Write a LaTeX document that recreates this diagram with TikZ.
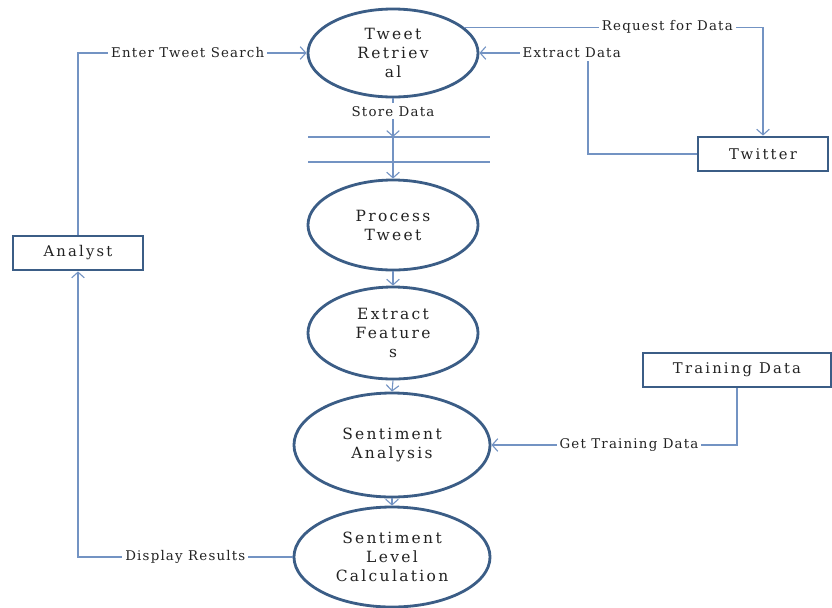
\documentclass[tikz,border=0pt]{standalone}
\usepackage{fontspec}
\setmainfont{DejaVu Serif}
\newfontfamily\bubblefont[LetterSpace=15]{DejaVu Serif}
\newfontfamily\flowfont[LetterSpace=9]{DejaVu Serif}
\usetikzlibrary{arrows.meta,positioning,shapes.geometric}
\definecolor{Frame}{HTML}{3B5D86}
\definecolor{Wire}{HTML}{7393C3}
\definecolor{Script}{HTML}{222222}

\begin{document}
\begin{tikzpicture}[x=0.025cm,y=-0.025cm,
    bubble/.style={ellipse,draw=Frame,line width=2pt,fill=white,align=center,
      inner sep=1pt,text=Script,font=\bubblefont\fontsize{11}{13.5}\selectfont},
    entity/.style={rectangle,draw=Frame,line width=2pt,minimum height=0.85cm,
      text=Script,font=\bubblefont\fontsize{10.5}{12}\selectfont},
    flow/.style={draw=Wire,line width=0.8pt,-{Straight Barb[length=4pt,width=9pt]}},
    wire/.style={draw=Wire,line width=0.8pt},
    lbl/.style={fill=white,inner sep=2pt,text=Script,font=\flowfont\fontsize{9.5}{11}\selectfont}]
  \useasboundingbox (0,0) rectangle (832,607);

  % processes
  \node[bubble,minimum width=4.25cm,minimum height=2.2cm] (retrieval) at (393,53) {Tweet\\Retriev\\al};
  \node[bubble,minimum width=4.25cm,minimum height=2.25cm] (process) at (393,225) {Process\\Tweet};
  \node[bubble,minimum width=4.25cm,minimum height=2.3cm] (features) at (393,333) {Extract\\Feature\\s};
  \node[bubble,minimum width=4.9cm,minimum height=2.6cm] (analysis) at (392,445) {Sentiment\\Analysis};
  \node[bubble,minimum width=4.9cm,minimum height=2.5cm] (level) at (392,557) {Sentiment\\Level\\Calculation};

  % external entities
  \node[entity,minimum width=3.25cm] (analyst) at (78,253) {Analyst};
  \node[entity,minimum width=3.25cm] (twitter) at (763,154) {Twitter};
  \node[entity,minimum width=4.7cm] (training) at (737,370) {Training Data};

  % data store
  \coordinate (storetop) at (393,137);
  \draw[wire] (308,137) -- (490,137);
  \draw[wire] (308,162) -- (490,162);

  % flows
  \draw[flow] (retrieval.south) -- node[lbl,pos=0.33]{Store Data} (storetop);
  \draw[flow] (storetop) -- (process.north);
  \draw[flow] (process.south) -- (features.north);
  \draw[flow] (features.south) -- (analysis.north);
  \draw[flow] (analysis.south) -- (level.north);

  \draw[flow] (analyst.north) |- node[lbl,pos=0.74]{Enter Tweet Search} (retrieval.west);
  \draw[flow] (retrieval.20) -| node[lbl,pos=0.34]{Request for Data} (twitter.north);
  \coordinate (bend) at (588,53);
  \draw[flow] (twitter.west) -| (bend) -- node[lbl,pos=0.15]{Extract Data} (retrieval.east);
  \draw[flow] (training.south) |- node[lbl,pos=0.72]{Get Training Data} (analysis.east);
  \draw[flow] (level.west) -| node[lbl,pos=0.25]{Display Results} (analyst.south);
\end{tikzpicture}
\end{document}
